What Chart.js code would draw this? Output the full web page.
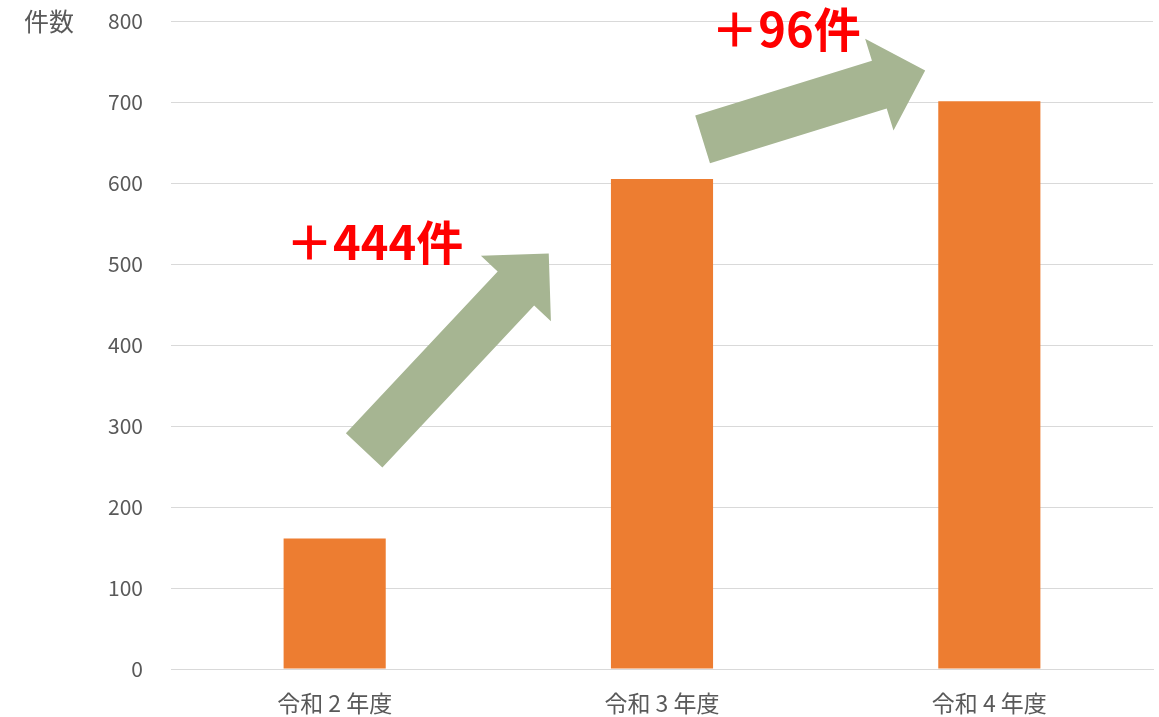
<!DOCTYPE html>
<html>
<head>
<meta charset="utf-8">
<script src="https://cdn.jsdelivr.net/npm/chart.js@4"></script>
<style>
  html, body { margin: 0; padding: 0; background: #fff; }
  #wrap { width: 1159px; height: 717px; }
</style>
</head>
<body>
<div id="wrap"><canvas id="c"></canvas></div>
<script>
// chart data
const CATEGORIES = ['令和 2 年度', '令和 3 年度', '令和 4 年度']
const COUNTS = [161, 605, 701]
const Y_TITLE = '件数'

// annotation arrows, in data units (x = category index, y = value)
const ARROW_FROM_X = [0.09, 1.124]
const ARROW_FROM_Y = [270, 654]
const ARROW_TO_X = [0.654, 1.804]
const ARROW_TO_Y = [513, 739]
const NOTE_TEXT = ['＋444件', '＋96件']
const NOTE_X = [0.122, 1.379]
const NOTE_Y = [527, 790]

const FONT = "'Noto Sans CJK JP','Noto Sans',sans-serif"
const GREY = '#595959'

// draws the green arrows, the red notes and the axis title
const notesPlugin = {
  id: 'notes',
  afterDatasetsDraw(chart) {
    const { ctx, scales: { x, y } } = chart
    ctx.save()
    for (let i = 0; i < ARROW_FROM_X.length; i++) {
      const x0 = x.getPixelForValue(ARROW_FROM_X[i]), y0 = y.getPixelForValue(ARROW_FROM_Y[i])
      const x1 = x.getPixelForValue(ARROW_TO_X[i]), y1 = y.getPixelForValue(ARROW_TO_Y[i])
      const len = Math.hypot(x1 - x0, y1 - y0)
      const shaft = 25, head = 48, headLen = 48
      ctx.save()
      ctx.translate(x0, y0)
      ctx.rotate(Math.atan2(y1 - y0, x1 - x0))
      ctx.beginPath()
      ctx.moveTo(0, -shaft)
      ctx.lineTo(len - headLen, -shaft)
      ctx.lineTo(len - headLen, -head)
      ctx.lineTo(len, 0)
      ctx.lineTo(len - headLen, head)
      ctx.lineTo(len - headLen, shaft)
      ctx.lineTo(0, shaft)
      ctx.closePath()
      ctx.fillStyle = '#a6b592'
      ctx.fill()
      ctx.restore()
    }
    ctx.fillStyle = '#ff0000'
    ctx.font = 'bold 47px ' + FONT
    ctx.textAlign = 'center'
    ctx.textBaseline = 'middle'
    NOTE_TEXT.forEach((t, i) => {
      ctx.fillText(t, x.getPixelForValue(NOTE_X[i]), y.getPixelForValue(NOTE_Y[i]))
    })
    ctx.fillStyle = GREY
    ctx.font = '25px ' + FONT
    ctx.textAlign = 'left'
    ctx.fillText(Y_TITLE, 24, y.getPixelForValue(800))
    ctx.restore()
  },
}

new Chart(document.getElementById('c'), {
  type: 'bar',
  data: {
    labels: CATEGORIES,
    datasets: [{
      data: COUNTS,
      backgroundColor: '#ed7d31',
      borderWidth: 0,
      categoryPercentage: 1,
      barPercentage: 0.312,
    }],
  },
  options: {
    responsive: true,
    maintainAspectRatio: false,
    animation: false,
    layout: { padding: { top: 21, right: 6, left: 0, bottom: 0 } },
    plugins: { legend: { display: false }, tooltip: { enabled: false } },
    scales: {
      x: {
        grid: { display: false, drawTicks: false },
        border: { display: true, color: '#d9d9d9', width: 1 },
        ticks: { color: GREY, font: { family: FONT, size: 23 }, padding: 20 },
        afterFit: s => { s.height = 48 },
      },
      y: {
        min: 0,
        max: 800,
        grid: { color: '#d9d9d9', lineWidth: 1, drawTicks: false },
        border: { display: false },
        ticks: { stepSize: 100, color: GREY, font: { family: FONT, size: 21 }, padding: 28 },
        afterFit: s => { s.width = 171; s.paddingTop = 0; s.paddingBottom = 0 },
      },
    },
  },
  plugins: [notesPlugin],
})
</script>
</body>
</html>
